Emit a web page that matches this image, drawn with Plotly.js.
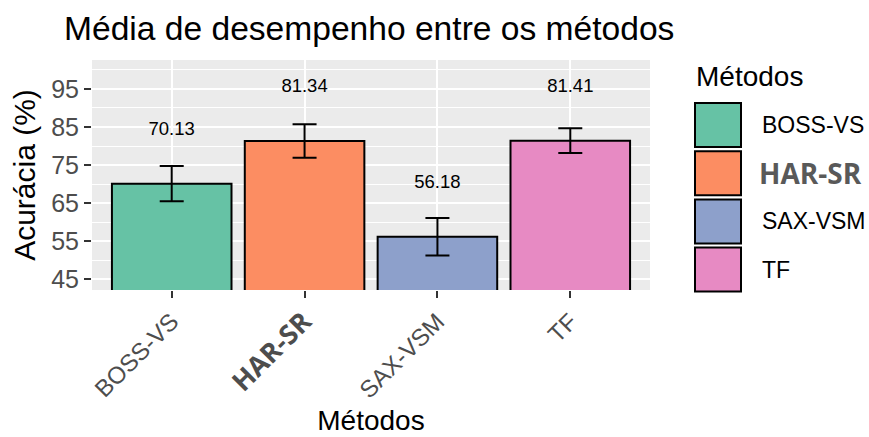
<!DOCTYPE html>
<html>
<head>
<meta charset="utf-8">
<script src="https://cdn.plot.ly/plotly-3.0.1.min.js"></script>
<style>
html,body{margin:0;padding:0;background:#fff;}
#chart{width:869px;height:437px;}
</style>
</head>
<body>
<div id="chart"></div>
<script>
// ---- data ----
const methods = ["BOSS-VS", "HAR-SR", "SAX-VSM", "TF"];
const meanAcc = [70.13, 81.34, 56.18, 81.41];
const errAcc = [4.65, 4.4, 4.9, 3.25];
const colors = ["#66C2A5", "#FC8D62", "#8DA0CB", "#E78AC3"];
const yTickVals = [45, 55, 65, 75, 85, 95];
const yTickText = ["45", "55", "65", "75", "85", "95"];
const highlighted = "HAR-SR";

// ---- layout constants ----
const W = 869, H = 437;
const PL = 92, PR = 650, PT = 60, PB = 290;
const px2x = p => (p - PL) / (PR - PL);
const px2y = p => (PB - p) / (PB - PT);
const boldSpan = (s, size) => '<b><span style="font-family:\'Open Sans\';font-size:' + size + 'px;">' + s + '</span></b>';
const labelOf = (s) => s === highlighted ? boldSpan(s, 27) : s;

const barTrace = {
  type: 'bar',
  x: methods,
  y: meanAcc,
  width: 0.9,
  marker: {color: colors, line: {color: 'black', width: 2}},
  error_y: {type: 'data', array: errAcc, visible: true, color: 'black', thickness: 2, width: 12},
  hoverinfo: 'skip'
};

const textTrace = {
  type: 'scatter',
  mode: 'text',
  x: methods,
  y: meanAcc.map(v => v + 14),
  text: meanAcc.map(v => v.toFixed(2)),
  textposition: 'middle center',
  textfont: {family: 'Liberation Sans, Arial, sans-serif', size: 18.5, color: 'black'},
  cliponaxis: false,
  hoverinfo: 'skip'
};

// manual legend (large ggplot-style keys)
const shapes = [];
const annotations = [];
const keyTop0 = 103, keyH = 44, keyPitch = 48.2, keyL = 695, keyR = 741;
methods.forEach((m, i) => {
  const t = keyTop0 + i * keyPitch;
  shapes.push({
    type: 'rect', xref: 'paper', yref: 'paper',
    x0: px2x(keyL), x1: px2x(keyR), y0: px2y(t + keyH), y1: px2y(t),
    fillcolor: colors[i], line: {color: 'black', width: 2}
  });
  annotations.push({
    xref: 'paper', yref: 'paper', x: px2x(m === highlighted ? 757 : 760), y: px2y(t + keyH / 2),
    xanchor: 'left', yanchor: 'middle', showarrow: false,
    text: m === highlighted ? boldSpan(m, 28) : m,
    font: {family: 'Liberation Sans, Arial, sans-serif', size: 23,
           color: m === highlighted ? '#595959' : 'black'}
  });
});
annotations.push({
  xref: 'paper', yref: 'paper', x: px2x(694), y: px2y(76),
  xanchor: 'left', yanchor: 'middle', showarrow: false,
  text: 'Métodos',
  font: {family: 'Liberation Sans, Arial, sans-serif', size: 28, color: 'black'}
});

const layout = {
  width: W, height: H,
  margin: {l: PL, r: W - PR, t: PT, b: H - PB, pad: 0},
  paper_bgcolor: 'white',
  plot_bgcolor: '#EBEBEB',
  showlegend: false,
  title: {
    text: 'Média de desempenho entre os métodos',
    font: {family: 'Liberation Sans, Arial, sans-serif', size: 33.6, color: 'black'},
    xref: 'container', x: 64 / W, xanchor: 'left',
    yref: 'container', y: 1 - 28 / H, yanchor: 'middle'
  },
  xaxis: {
    type: 'category',
    range: [-0.6, methods.length - 0.4],
    tickmode: 'array',
    tickvals: methods,
    ticktext: methods.map(labelOf),
    tickangle: -45,
    tickfont: {family: 'Liberation Sans, Arial, sans-serif', size: 24, color: '#4D4D4D'},
    ticks: 'outside', ticklen: 7, tickwidth: 2, tickcolor: '#333333',
    showgrid: true, gridcolor: 'white', gridwidth: 2,
    zeroline: false, showline: false,
    title: {text: 'Métodos', font: {family: 'Liberation Sans, Arial, sans-serif', size: 28, color: 'black'}, standoff: 8},
    automargin: false
  },
  yaxis: {
    range: [42.2, 102.6],
    tickmode: 'array',
    tickvals: yTickVals,
    ticktext: yTickText,
    tickfont: {family: 'Liberation Sans, Arial, sans-serif', size: 25, color: '#4D4D4D'},
    ticks: 'outside', ticklen: 7, tickwidth: 2, tickcolor: '#333333',
    showgrid: true, gridcolor: 'white', gridwidth: 2,
    minor: {tick0: 50, dtick: 10, showgrid: true, gridcolor: 'white', gridwidth: 1, ticks: ''},
    zeroline: false, showline: false,
    title: {text: 'Acurácia (%)', font: {family: 'Liberation Sans, Arial, sans-serif', size: 30, color: 'black'}, standoff: 6},
    automargin: false
  },
  shapes: shapes,
  annotations: annotations,
  bargap: 0.1
};

Plotly.newPlot('chart', [barTrace, textTrace], layout, {displayModeBar: false, staticPlot: true});
</script>
</body>
</html>
